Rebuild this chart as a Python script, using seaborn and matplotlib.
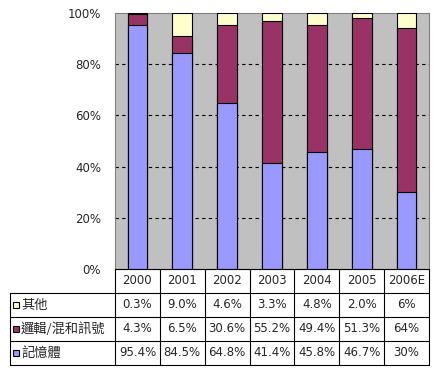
import matplotlib
matplotlib.use('Agg')
import matplotlib.pyplot as plt
import seaborn as sns
import pandas as pd

years = ['2000', '2001', '2002', '2003', '2004', '2005', '2006E']
other = [0.3, 9.0, 4.6, 3.3, 4.8, 2.0, 6]
logic = [4.3, 6.5, 30.6, 55.2, 49.4, 51.3, 64]
memory = [95.4, 84.5, 64.8, 41.4, 45.8, 46.7, 30]
other_lbl = ['0.3%', '9.0%', '4.6%', '3.3%', '4.8%', '2.0%', '6%']
logic_lbl = ['4.3%', '6.5%', '30.6%', '55.2%', '49.4%', '51.3%', '64%']
memory_lbl = ['95.4%', '84.5%', '64.8%', '41.4%', '45.8%', '46.7%', '30%']
series_names = ['其他', '邏輯/混和訊號', '記憶體']
colors = ['#FFFFCC', '#993366', '#9999FF']
yticks = [0, 20, 40, 60, 80, 100]
ytick_lbl = ['0%', '20%', '40%', '60%', '80%', '100%']

sns.set_style('white')
plt.rcParams['font.family'] = ['DejaVu Sans', 'Noto Sans CJK TC']
FS = 8.5
CJK = ['Noto Sans CJK TC', 'DejaVu Sans']

# normalized cumulative stacks
rows = []
for y, o, l, m in zip(years, other, logic, memory):
    t = o + l + m
    rows.append({'year': y, 'mem': m / t * 100, 'mid': (m + l) / t * 100, 'top': 100.0})
df = pd.DataFrame(rows)

W, H = 439, 368
fig = plt.figure(figsize=(W / 100, H / 100), dpi=100)
L, R, T, B = 115, 429, 13, 269
ax = fig.add_axes([L / W, 1 - B / H, (R - L) / W, (B - T) / H])
ax.set_facecolor('#C0C0C0')
ax.set_axisbelow(True)

for col, c in zip(['top', 'mid', 'mem'], colors):
    sns.barplot(data=df, x='year', y=col, color=c, saturation=1, width=0.44,
                edgecolor='black', linewidth=0.8, errorbar=None, ax=ax, zorder=3)

ax.set_xlim(-0.5, len(years) - 0.5)
ax.set_ylim(0, 100)
ax.set_yticks(yticks)
ax.set_yticklabels(ytick_lbl, fontsize=FS)
ax.tick_params(axis='y', length=0, pad=10)
ax.set_xticks([])
ax.set_xlabel('')
ax.set_ylabel('')
for yv in yticks[1:-1]:
    ax.axhline(yv, color='black', linestyle=(0, (3, 3)), linewidth=0.8, zorder=1)
for s in ax.spines.values():
    s.set_color('#808080')
    s.set_linewidth(0.8)

# data table
TL, TB = 10, 365
tax = fig.add_axes([TL / W, 1 - TB / H, (R - TL) / W, (TB - B) / H])
n = len(years)
xl = -0.5 - (L - TL) / (R - L) * n
tax.set_xlim(xl, n - 0.5)
tax.set_ylim(4, 0)
tax.axis('off')
lk = dict(color='black', linewidth=0.8, clip_on=False)
tax.plot([-0.5, n - 0.5], [0, 0], **lk)
for yv in [1, 2, 3, 4]:
    tax.plot([xl, n - 0.5], [yv, yv], **lk)
tax.plot([xl, xl], [1, 4], **lk)
for i in range(n + 1):
    tax.plot([i - 0.5, i - 0.5], [0, 4], **lk)

for i, y in enumerate(years):
    tax.text(i, 0.5, y, ha='center', va='center', fontsize=FS)
px = (n - 0.5 - xl) / (R - TL)
for r, (name, c, lbls) in enumerate(zip(series_names, colors, [other_lbl, logic_lbl, memory_lbl])):
    yc = r + 1.5
    tax.plot([xl + 6 * px], [yc], marker='s', markersize=5, mfc=c, mec='black', mew=0.8, clip_on=False)
    tax.text(xl + 11 * px, yc, name, ha='left', va='center', fontsize=9.5, family=CJK)
    for i, v in enumerate(lbls):
        tax.text(i, yc, v, ha='center', va='center', fontsize=FS)

fig.savefig('out.png', dpi=100)
